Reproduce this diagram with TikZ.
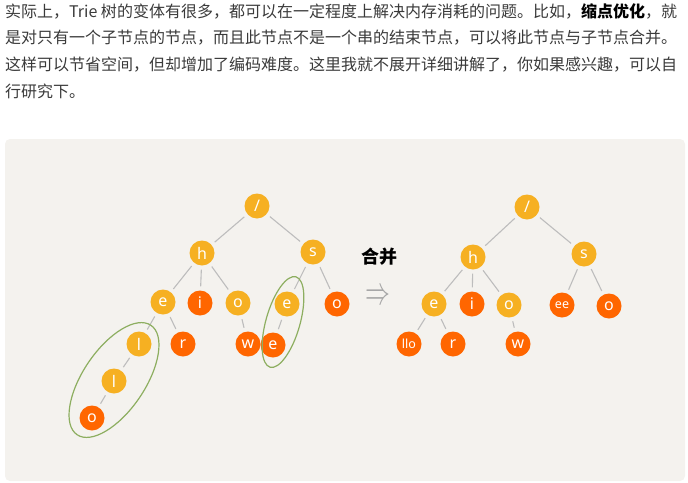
\documentclass[tikz,border=0pt]{standalone}
\usepackage{fontspec}
\setmainfont{Noto Sans}
\newfontfamily\cjk{Noto Sans CJK SC}
\usepackage{tikz}

\definecolor{txtgray}{HTML}{3A3A3A}
\definecolor{panelbg}{HTML}{F4F2EE}
\definecolor{yelnode}{HTML}{F6B022}
\definecolor{rednode}{HTML}{FF6600}
\definecolor{linkgray}{HTML}{BDBDBD}
\definecolor{ringgreen}{HTML}{8DAE60}

\begin{document}
\begin{tikzpicture}[x = 1pt, y = -1pt,
        ynode/.style = {circle, fill = yelnode, text = white, minimum size = 25pt, inner sep = 0pt, font = \fontsize{16}{16}\selectfont},
        rnode/.style = {ynode, fill = rednode},
        small/.style = {font = \fontsize{12.5}{12.5}\selectfont},
        link/.style = {draw = linkgray, line width = 1.1pt, shorten < = 4pt, shorten > = 4pt},
        ring/.style = {draw = ringgreen, line width = 1.2pt},
        line/.style = {anchor = base west, inner sep = 0pt, text = txtgray, font = \cjk\fontsize{16}{16}\selectfont}]
            \useasboundingbox (0, 0) rectangle (688, 482);
            \fill[panelbg, rounded corners = 5pt] (5, 139) rectangle (685, 481);

            \node[line] (t1) at (5, 17){实际上，Trie 树的变体有很多，都可以在一定程度上解决内存消耗的问题。比如，{\color{black}\bfseries 缩点优化}，就};
            \node[line] (t2) at (5, 43){是对只有一个子节点的节点，而且此节点不是一个串的结束节点，可以将此节点与子节点合并。};
            \node[line] (t3) at (5, 70){这样可以节省空间，但却增加了编码难度。这里我就不展开详细讲解了，你如果感兴趣，可以自};
            \node[line] (t4) at (5, 97){行研究下。};

            % before
            \node[ynode] (A) at (257, 206){/};
            \node[ynode] (B) at (202, 253){h};
            \node[ynode] (C) at (313, 252){s};
            \node[ynode] (D) at (163, 302){e};
            \node[rnode] (E) at (200, 303){i};
            \node[ynode] (F) at (238, 303){o};
            \node[ynode] (G) at (287, 304){e};
            \node[rnode] (H) at (337, 304){o};
            \node[ynode] (I) at (139, 344){l};
            \node[rnode] (J) at (183, 344){r};
            \node[rnode] (K) at (248, 344){w};
            \node[rnode] (L) at (273, 345){e};
            \node[ynode] (M) at (114, 381){l};
            \node[rnode] (N) at (92, 418){o};

            \draw[link] (A) -- (B);
            \draw[link] (A) -- (C);
            \draw[link] (B) -- (D);
            \draw[link] (B) -- (E);
            \draw[link] (B) -- (F);
            \draw[link] (C) -- (G);
            \draw[link] (C) -- (H);
            \draw[link] (D) -- (I);
            \draw[link] (D) -- (J);
            \draw[link] (F) -- (K);
            \draw[link] (G) -- (L);
            \draw[link] (I) -- (M);
            \draw[link] (M) -- (N);

            \draw[ring, rotate around = {56:(114, 380)}] (114, 380) ellipse [x radius = 66, y radius = 31];
            \draw[ring, rotate around = {74:(283, 322)}] (283, 322) ellipse [x radius = 47, y radius = 17];

            % merge sign
            \node[inner sep = 0pt] (mg) at (379, 257){\cjk\bfseries\fontsize{18}{18}\selectfont 合并};
            \node[text = gray!70, inner sep = 0pt] (ar) at (378, 297){\scalebox{1}[1.6]{\fontsize{30}{30}\selectfont$\Rightarrow$}};

            % after
            \node[ynode] (a) at (527, 207){/};
            \node[ynode] (b) at (473, 257){h};
            \node[ynode] (c) at (584, 254){s};
            \node[ynode] (d) at (434, 304){e};
            \node[rnode] (e) at (472, 304){i};
            \node[ynode] (f) at (509, 305){o};
            \node[rnode, small] (g) at (562, 305){ee};
            \node[rnode] (h) at (609, 306){o};
            \node[rnode, small] (i) at (409, 344){llo};
            \node[rnode] (j) at (453, 344){r};
            \node[rnode] (k) at (518, 344){w};

            \draw[link] (a) -- (b);
            \draw[link] (a) -- (c);
            \draw[link] (b) -- (d);
            \draw[link] (b) -- (e);
            \draw[link] (b) -- (f);
            \draw[link] (c) -- (g);
            \draw[link] (c) -- (h);
            \draw[link] (d) -- (i);
            \draw[link] (d) -- (j);
            \draw[link] (f) -- (k);
        \end{tikzpicture}
\end{document}
